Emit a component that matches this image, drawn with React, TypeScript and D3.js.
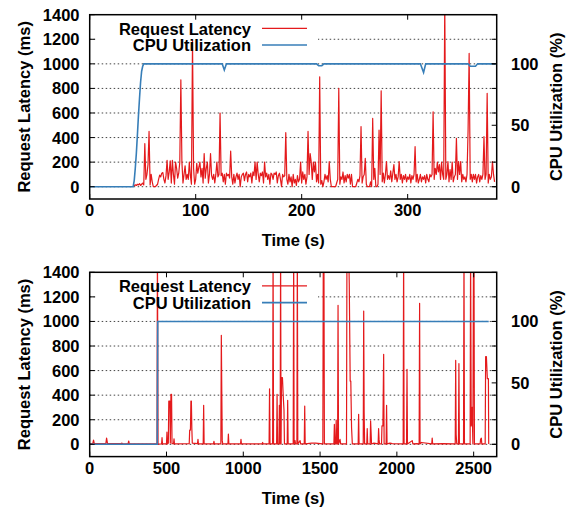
import React from "react"
import { scaleLinear, line } from "d3"

const FONT = "'Liberation Sans', Arial, Helvetica, sans-serif"
const RED = "#e41a1c"
const BLUE = "#377eb8"

// top run: latency sampled every second from t = 41 s
const topStart = 41
const topLatency = [
  5, 10, 15, 10, 20, 15, 25, 10, 20, 30, 15,
  350, 60, 100, 180, 450, 15, 100, 40, 0, 0,
  0, 10, 20, 60, 95, 80, 110, 115, 60, 30,
  90, 215, 60, 120, 210, 30, 215, 100, 20, 200,
  150, 70, 110, 200, 870, 200, 30, 100, 170, 60,
  100, 60, 200, 90, 20, 1190, 150, 20, 60, 190,
  110, 160, 200, 80, 150, 30, 270, 70, 150, 200,
  30, 100, 270, 90, 60, 100, 30, 100, 200, 80,
  100, 600, 90, 110, 40, 100, 20, 110, 90, 100,
  70, 290, 80, 20, 100, 30, 80, 110, 60, 100,
  0, 80, 100, 110, 50, 100, 120, 40, 100, 80,
  110, 30, 120, 90, 200, 60, 200, 100, 40, 110,
  90, 120, 30, 200, 80, 110, 60, 100, 20, 110,
  100, 60, 110, 100, 120, 30, 90, 110, 60, 0,
  100, 80, 90, 440, 60, 20, 100, 40, 80, 0,
  100, 30, 60, 10, 90, 40, 60, 200, 30, 120,
  60, 100, 20, 80, 450, 100, 270, 200, 60, 200,
  120, 200, 40, 100, 30, 895, 20, 50, 0, 40,
  100, 60, 90, 40, 205, 60, 0, 0, 0, 0,
  0, 30, 60, 800, 20, 80, 60, 120, 30, 90,
  40, 100, 70, 100, 20, 100, 0, 0, 0, 0,
  30, 60, 40, 90, 490, 30, 80, 100, 230, 20,
  0, 0, 0, 40, 0, 556, 60, 150, 0, 0,
  20, 460, 100, 780, 40, 110, 30, 100, 205, 60,
  90, 60, 130, 40, 110, 180, 60, 100, 40, 80,
  205, 60, 100, 30, 90, 60, 100, 40, 80, 60,
  100, 30, 90, 60, 100, 326, 40, 100, 30, 60,
  100, 40, 80, 60, 90, 30, 100, 60, 40, 100,
  80, 100, 610, 60, 150, 100, 200, 120, 180, 60,
  200, 100, 60, 1500, 60, 100, 205, 40, 140, 60,
  200, 40, 80, 100, 394, 60, 205, 100, 205, 40,
  100, 60, 80, 40, 100, 461, 1085, 60, 100, 40,
  100, 60, 100, 30, 80, 100, 40, 90, 60, 100,
  407, 60, 100, 760, 30, 100, 60, 80, 205, 100,
  40,
]

const topCpu = [
  [0, 0], [41, 0], [42, 5], [43, 15], [44, 27], [45, 42], [46, 58], [47, 72],
  [48, 85], [49, 94], [50, 98], [51, 100], [125, 100], [127, 95], [129, 100],
  [214, 100], [216, 98.5], [219, 98.5], [221, 100], [312, 100], [315, 93],
  [317, 100], [357, 100], [359, 98], [364, 98], [366, 100], [383, 100],
]

const bottomLatency = [
  [0, 5], [20, 5], [25, 35], [30, 5], [105, 5], [110, 50], [116, 5], [205, 5],
  [210, 10], [215, 3], [250, 5], [254, 27], [258, 3], [438, 3], [441, 1600],
  [445, 2], [468, 3], [471, 54], [474, 3], [500, 3], [503, 100], [506, 3],
  [512, 10], [515, 352], [522, 352], [525, 10], [529, 407], [533, 407],
  [536, 5], [546, 5], [549, 45], [552, 3], [648, 5], [651, 116], [656, 116],
  [659, 352], [662, 352], [665, 130], [668, 10], [702, 5], [705, 40],
  [708, 3], [739, 3], [742, 317], [745, 3], [806, 3], [809, 25], [812, 3],
  [854, 3], [857, 887], [860, 433], [863, 30], [866, 3], [900, 3], [903, 84],
  [906, 3], [982, 3], [985, 40], [988, 3], [1123, 3], [1126, 15], [1129, 3],
  [1168, 3], [1171, 452], [1174, 3], [1191, 3], [1194, 1600], [1197, 3],
  [1217, 3], [1220, 407], [1223, 3], [1232, 3], [1235, 317], [1238, 3],
  [1240, 3], [1243, 1600], [1246, 3], [1249, 542], [1255, 542], [1260, 395],
  [1265, 280], [1268, 3], [1286, 3], [1289, 358], [1292, 3], [1325, 3],
  [1328, 1600], [1331, 3], [1337, 30], [1340, 3], [1349, 3], [1352, 1600],
  [1355, 3], [1370, 30], [1373, 3], [1397, 3], [1400, 312], [1403, 3],
  [1445, 10], [1470, 10], [1518, 3], [1521, 1600], [1525, 1600], [1528, 3],
  [1590, 3], [1593, 162], [1596, 3], [1602, 3], [1605, 197], [1608, 3],
  [1614, 3], [1617, 1131], [1620, 3], [1630, 40], [1634, 3], [1672, 3],
  [1675, 1600], [1680, 1600], [1686, 1600], [1690, 1310], [1696, 515],
  [1700, 515], [1705, 135], [1710, 3], [1748, 3], [1751, 244], [1754, 3],
  [1781, 3], [1784, 1085], [1787, 257], [1790, 3], [1804, 3], [1807, 127],
  [1810, 3], [1826, 3], [1829, 190], [1832, 100], [1835, 3], [1850, 10],
  [1878, 3], [1881, 127], [1884, 40], [1887, 3], [1900, 3], [1903, 150],
  [1909, 150], [1914, 733], [1917, 3], [1930, 3], [1933, 317], [1936, 3],
  [1955, 10], [1970, 5], [2041, 3], [2044, 1600], [2047, 3], [2063, 3],
  [2066, 610], [2069, 3], [2100, 30], [2104, 3], [2130, 5], [2145, 3],
  [2148, 1148], [2151, 3], [2160, 15], [2227, 3], [2230, 50], [2233, 3],
  [2300, 5], [2380, 3], [2383, 683], [2386, 80], [2390, 3], [2401, 3],
  [2404, 656], [2407, 3], [2434, 3], [2437, 1600], [2440, 3], [2477, 3],
  [2480, 1600], [2484, 150], [2490, 300], [2495, 3], [2499, 1600],
  [2502, 1600], [2505, 3], [2542, 3], [2545, 40], [2550, 50], [2553, 3],
  [2575, 3], [2578, 713], [2583, 713], [2589, 534], [2596, 534], [2598, 3],
]

const bottomCpu = [[0, 0], [440, 0], [443, 100], [2598, 100]]

const topXTicks = [0, 100, 200, 300]
const bottomXTicks = [0, 500, 1000, 1500, 2000, 2500]
const yTicks = [0, 200, 400, 600, 800, 1000, 1200, 1400]
const y2Ticks = [0, 50, 100]

function Panel(props) {
  const { id, top, xMax, xTicks, latency, cpu } = props
  const left = 89.7
  const right = 496.7
  const bottom = top + 184.3

  const x = scaleLinear().domain([0, xMax]).range([left, right])
  const y = scaleLinear().domain([-100, 1400]).range([bottom, top])
  const y2 = scaleLinear().domain([-10, 140]).range([bottom, top])

  const latLine = line()
    .x(d => x(d[0]))
    .y(d => y(d[1]))
  const cpuLine = line()
    .x(d => x(d[0]))
    .y(d => y2(d[1]))

  const txt = { fontFamily: FONT, fontWeight: "bold", fontSize: 16.5, fill: "#000" }

  return (
    <g>
      <defs>
        <clipPath id={"clip-" + id}>
          <rect x={left} y={top} width={right - left} height={bottom - top} />
        </clipPath>
      </defs>

      {yTicks.slice(0, -1).map(t => (
        <line key={"g" + t} x1={left} x2={right} y1={y(t)} y2={y(t)}
          stroke="#444" strokeWidth={1} strokeDasharray="1.5,2.5" />
      ))}

      {/* key box hides the grid behind it */}
      <rect x={97} y={top + 1} width={221} height={39} fill="#fff" />

      <g clipPath={"url(#clip-" + id + ")"}>
        <path d={latLine(latency)} fill="none" stroke={RED} strokeWidth={1.2} strokeLinejoin="round" />
        <path d={cpuLine(cpu)} fill="none" stroke={BLUE} strokeWidth={1.6} />
      </g>

      <rect x={left} y={top} width={right - left} height={bottom - top}
        fill="none" stroke="#000" strokeWidth={1.5} />

      {xTicks.map(t => (
        <g key={"x" + t}>
          <line x1={x(t)} x2={x(t)} y1={bottom} y2={bottom - 5} stroke="#000" />
          <line x1={x(t)} x2={x(t)} y1={top} y2={top + 5} stroke="#000" />
          <text x={x(t)} y={bottom + 17} textAnchor="middle" {...txt}>{t}</text>
        </g>
      ))}

      {yTicks.map(t => (
        <g key={"y" + t}>
          <line x1={left} x2={left + 5} y1={y(t)} y2={y(t)} stroke="#000" />
          <line x1={right} x2={right - 5} y1={y(t)} y2={y(t)} stroke="#000" />
          <text x={79.5} y={y(t) + 6} textAnchor="end" {...txt}>{t}</text>
        </g>
      ))}

      {y2Ticks.map(t => (
        <g key={"y2" + t}>
          <line x1={right} x2={right - 5} y1={y2(t)} y2={y2(t)} stroke="#000" />
          <text x={511} y={y2(t) + 6} textAnchor="start" {...txt}>{t}</text>
        </g>
      ))}

      <text x={(left + right) / 2} y={bottom + 47} textAnchor="middle" {...txt}>Time (s)</text>
      <text transform={`translate(24,${(top + bottom) / 2}) rotate(-90)`}
        textAnchor="middle" dominantBaseline="central" {...txt}>Request Latency (ms)</text>
      <text transform={`translate(556,${(top + bottom) / 2}) rotate(-90)`}
        textAnchor="middle" dominantBaseline="central" {...txt}>CPU Utilization (%)</text>

      <text x={251} y={top + 20} textAnchor="end" {...txt}>Request Latency</text>
      <line x1={262} x2={307} y1={top + 13.6} y2={top + 13.6} stroke={RED} strokeWidth={1.2} />
      <text x={251} y={top + 36.5} textAnchor="end" {...txt}>CPU Utilization</text>
      <line x1={262} x2={307} y1={top + 30.3} y2={top + 30.3} stroke={BLUE} strokeWidth={1.6} />
    </g>
  )
}

export default function App() {
  const topPoints = topLatency.map((v, i) => [topStart + i, v])
  return (
    <svg width={570} height={509} style={{ position: "absolute", left: 0, top: 0, background: "#fff" }}>
      <rect width={570} height={509} fill="#fff" />
      <Panel id="a" top={14.7} xMax={384} xTicks={topXTicks} latency={topPoints} cpu={topCpu} />
      <Panel id="b" top={272.3} xMax={2650} xTicks={bottomXTicks} latency={bottomLatency} cpu={bottomCpu} />
    </svg>
  )
}
